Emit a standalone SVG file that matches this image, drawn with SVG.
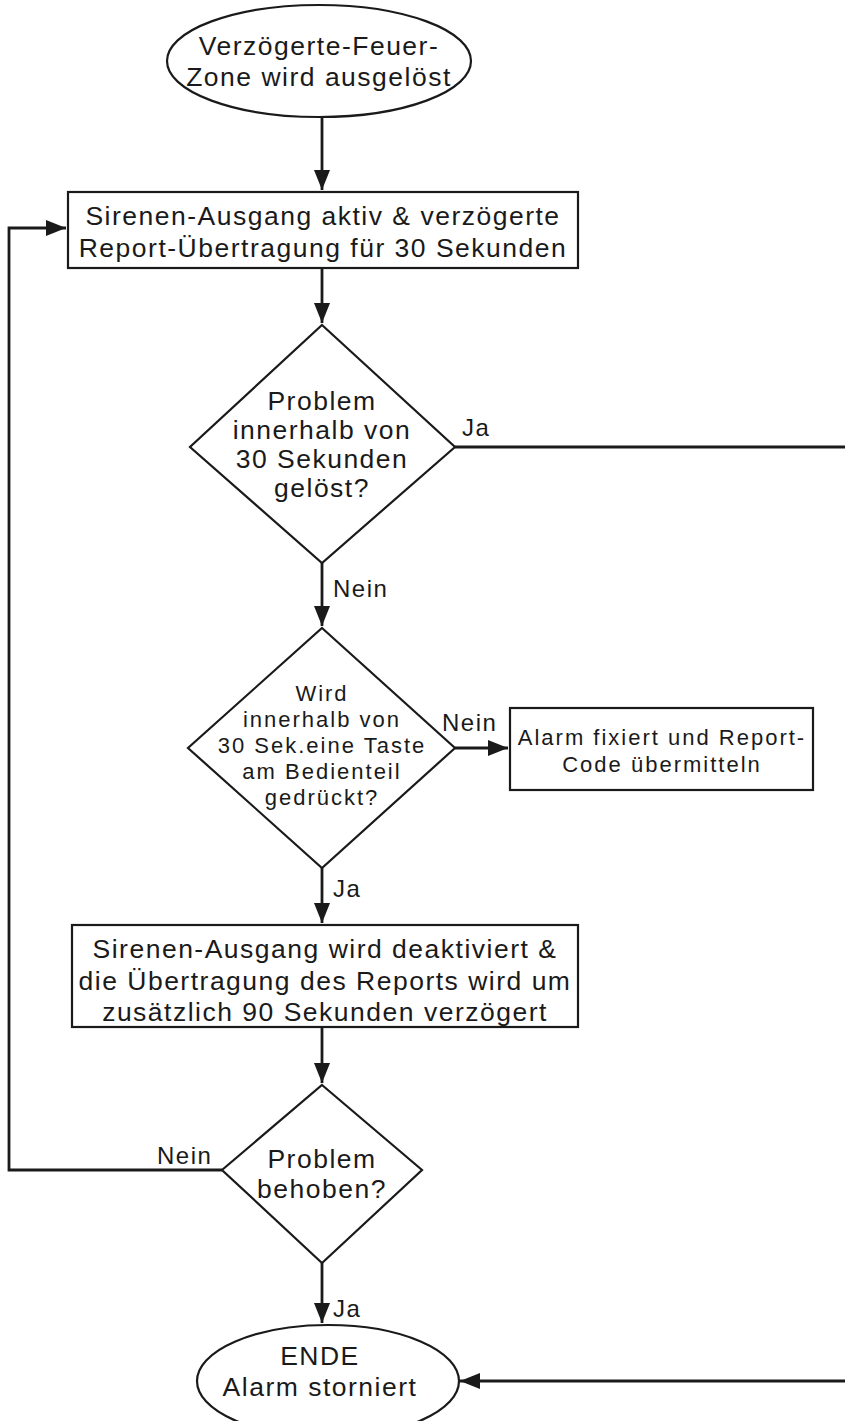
<svg xmlns="http://www.w3.org/2000/svg" width="845" height="1421" viewBox="0 0 845 1421">
<defs>
<marker id="ah" markerUnits="userSpaceOnUse" markerWidth="22" markerHeight="22" viewBox="0 0 22 22" refX="20" refY="11" orient="auto">
<path d="M0,3 L20,11 L0,19 Z" fill="#1a1a1a"/>
</marker>
<style>
.s{fill:#fff;stroke:#1a1a1a;stroke-width:2.2}
.c{fill:none;stroke:#1a1a1a;stroke-width:2.8}
.t{font-family:"Liberation Sans",Arial,sans-serif;font-size:26.5px;letter-spacing:1.5px;fill:#1a1a1a;text-anchor:middle}
.m{font-size:22px;letter-spacing:2px}
.l{font-family:"Liberation Sans",Arial,sans-serif;font-size:24px;letter-spacing:1.5px;fill:#1a1a1a}
</style>
</defs>
<rect width="845" height="1421" fill="#fff"/>
<g id="connectors">
<path class="c" d="M322,118 V190" marker-end="url(#ah)"/>
<path class="c" d="M322,268 V323" marker-end="url(#ah)"/>
<path class="c" d="M455,447 H848 V1381 H460" marker-end="url(#ah)"/>
<path class="c" d="M322,563 V626" marker-end="url(#ah)"/>
<path class="c" d="M455,748 H508" marker-end="url(#ah)"/>
<path class="c" d="M322,868 V923" marker-end="url(#ah)"/>
<path class="c" d="M322,1027 V1083" marker-end="url(#ah)"/>
<path class="c" d="M222,1170 H9 V228 H66" marker-end="url(#ah)"/>
<path class="c" d="M322,1263 V1323" marker-end="url(#ah)"/>
<text class="l" x="462" y="436">Ja</text>
<text class="l" x="333" y="597">Nein</text>
<text class="l" x="442" y="731">Nein</text>
<text class="l" x="333" y="897">Ja</text>
<text class="l" x="157" y="1164">Nein</text>
<text class="l" x="333" y="1317">Ja</text>
</g>
<g id="start">
<ellipse class="s" cx="319" cy="61" rx="152" ry="56"/>
<text class="t" x="319" y="55">Verzögerte-Feuer-</text>
<text class="t" x="319" y="86">Zone wird ausgelöst</text>
</g>
<g id="step1">
<rect class="s" x="68" y="192" width="510" height="76"/>
<text class="t" x="323" y="225">Sirenen-Ausgang aktiv &amp; verzögerte</text>
<text class="t" x="323" y="257">Report-Übertragung für 30 Sekunden</text>
</g>
<g id="decision1">
<polygon class="s" points="322,325 455,447 322,563 190,447"/>
<text class="t" x="322" y="410">Problem</text>
<text class="t" x="322" y="439">innerhalb von</text>
<text class="t" x="322" y="468">30 Sekunden</text>
<text class="t" x="322" y="497">gelöst?</text>
</g>
<g id="decision2">
<polygon class="s" points="322,628 455,748 322,868 188,748"/>
<text class="t m" x="322" y="701">Wird</text>
<text class="t m" x="322" y="727">innerhalb von</text>
<text class="t m" x="322" y="753">30 Sek.eine Taste</text>
<text class="t m" x="322" y="779">am Bedienteil</text>
<text class="t m" x="322" y="805">gedrückt?</text>
</g>
<g id="alarm">
<rect class="s" x="510" y="708" width="303" height="82"/>
<text class="t m" x="662" y="745">Alarm fixiert und Report-</text>
<text class="t m" x="662" y="772">Code übermitteln</text>
</g>
<g id="step2">
<rect class="s" x="72" y="925" width="506" height="102"/>
<text class="t" x="325" y="958">Sirenen-Ausgang wird deaktiviert &amp;</text>
<text class="t" x="325" y="990">die Übertragung des Reports wird um</text>
<text class="t" x="325" y="1021">zusätzlich 90 Sekunden verzögert</text>
</g>
<g id="decision3">
<polygon class="s" points="322,1085 422,1170 322,1263 222,1170"/>
<text class="t" x="322" y="1168">Problem</text>
<text class="t" x="322" y="1198">behoben?</text>
</g>
<g id="end">
<ellipse class="s" cx="328" cy="1381" rx="131" ry="56"/>
<text class="t" x="320" y="1365">ENDE</text>
<text class="t" x="320" y="1396">Alarm storniert</text>
</g>
</svg>
